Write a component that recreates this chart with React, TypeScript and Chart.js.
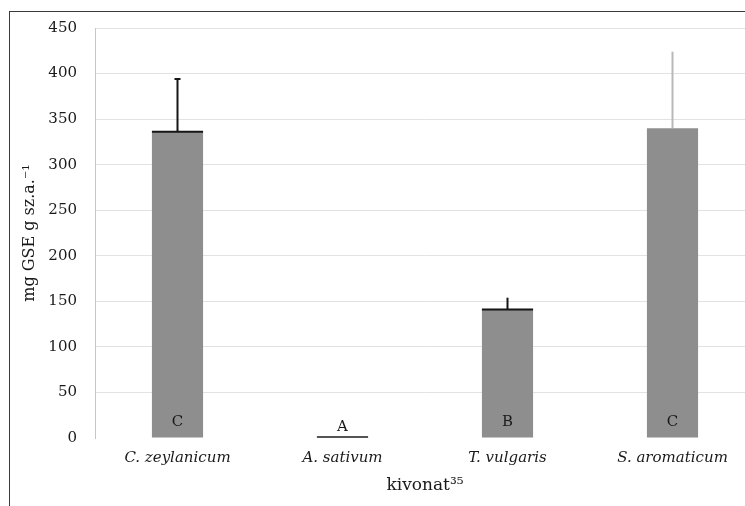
import React, { useEffect, useRef } from "react";
import { Chart, registerables } from "chart.js";

Chart.register(...registerables);

const categories = ["C. zeylanicum", "A. sativum", "T. vulgaris", "S. aromaticum"];
const means = [336, 1, 141, 340];
const errors = [58, 0, 13, 84];
const letters = ["C", "A", "B", "C"];
const yMax = 450;
const yStep = 50;
const yTitle = "mg GSE g sz.a.⁻¹";
const xTitle = "kivonat³⁵";

const errColors = ["#151515", "#151515", "#151515", "#b8b8b8"];
const capColors = ["#151515", "#555555", "#151515", ""];

const SERIF = "'DejaVu Serif', 'Liberation Serif', serif";

const overlayPlugin = {
  id: "errOverlay",
  afterDatasetsDraw(chart: any) {
    const { ctx } = chart;
    const meta = chart.getDatasetMeta(0);
    const y = chart.scales.y;
    meta.data.forEach((bar: any, i: number) => {
      const x = bar.x;
      const w = bar.width;
      const yv = y.getPixelForValue(means[i]);
      const ye = y.getPixelForValue(means[i] + errors[i]);
      ctx.save();
      if (errors[i] > 0) {
        ctx.strokeStyle = errColors[i];
        ctx.lineWidth = 2;
        ctx.beginPath();
        ctx.moveTo(x, yv);
        ctx.lineTo(x, ye);
        ctx.stroke();
        if (i === 0) {
          ctx.beginPath();
          ctx.moveTo(x - 3, ye);
          ctx.lineTo(x + 3, ye);
          ctx.stroke();
        }
      }
      if (capColors[i]) {
        ctx.strokeStyle = capColors[i];
        ctx.lineWidth = 2;
        ctx.beginPath();
        ctx.moveTo(x - w / 2, yv);
        ctx.lineTo(x + w / 2, yv);
        ctx.stroke();
      }
      ctx.fillStyle = "#1a1a1a";
      ctx.font = `15px ${SERIF}`;
      ctx.textAlign = "center";
      ctx.textBaseline = "middle";
      const y0 = y.getPixelForValue(0);
      ctx.fillText(letters[i], x, i === 1 ? y0 - 11 : y0 - 16);
      ctx.restore();
    });
  },
};

export default function App() {
  const ref = useRef<HTMLCanvasElement>(null);
  useEffect(() => {
    if (!ref.current) return;
    const chart = new Chart(ref.current, {
      type: "bar",
      data: {
        labels: categories,
        datasets: [
          {
            data: means,
            backgroundColor: "#8e8e8e",
            borderWidth: 0,
            barPercentage: 0.31,
            categoryPercentage: 1,
          },
        ],
      },
      options: {
        animation: false,
        responsive: false,
        devicePixelRatio: 1,
        layout: { padding: { left: 0, right: 5, top: 28, bottom: 0 } },
        plugins: { legend: { display: false }, tooltip: { enabled: false } },
        scales: {
          x: {
            grid: { display: false, drawTicks: false },
            border: { display: false },
            ticks: {
              padding: 11,
              color: "#1a1a1a",
              font: { family: SERIF, size: 15, style: "italic" },
            },
            title: {
              display: true,
              text: xTitle,
              color: "#1a1a1a",
              font: { family: SERIF, size: 17 },
              padding: { top: 0, bottom: 10 },
            },
            afterFit(scale: any) {
              scale.height = 68;
            },
          },
          y: {
            min: 0,
            max: yMax,
            ticks: {
              stepSize: yStep,
              padding: 18,
              color: "#1a1a1a",
              font: { family: SERIF, size: 15 },
            },
            grid: {
              drawTicks: false,
              color: (c: any) => (c.tick && c.tick.value === 0 ? "rgba(0,0,0,0)" : "#e2e2e2"),
            },
            border: { display: true, color: "#c6c6c6", width: 1 },
            title: {
              display: true,
              text: yTitle,
              color: "#1a1a1a",
              font: { family: SERIF, size: 16 },
              padding: { top: 20, bottom: 0 },
            },
            afterFit(scale: any) {
              scale.width = 95;
            },
          },
        },
      },
      plugins: [overlayPlugin],
    });
    return () => chart.destroy();
  }, []);

  return (
    <div
      style={{
        position: "absolute",
        left: 0,
        top: 0,
        width: 745,
        height: 506,
        overflow: "hidden",
        background: "#ffffff",
      }}
    >
      <div
        style={{
          position: "absolute",
          left: 9,
          top: 11,
          width: 800,
          height: 600,
          borderTop: "1px solid #3a3a3a",
          borderLeft: "1px solid #3a3a3a",
        }}
      />
      <canvas
        ref={ref}
        width={760}
        height={506}
        style={{ position: "absolute", left: 0, top: 0, width: 760, height: 506 }}
      />
    </div>
  );
}
